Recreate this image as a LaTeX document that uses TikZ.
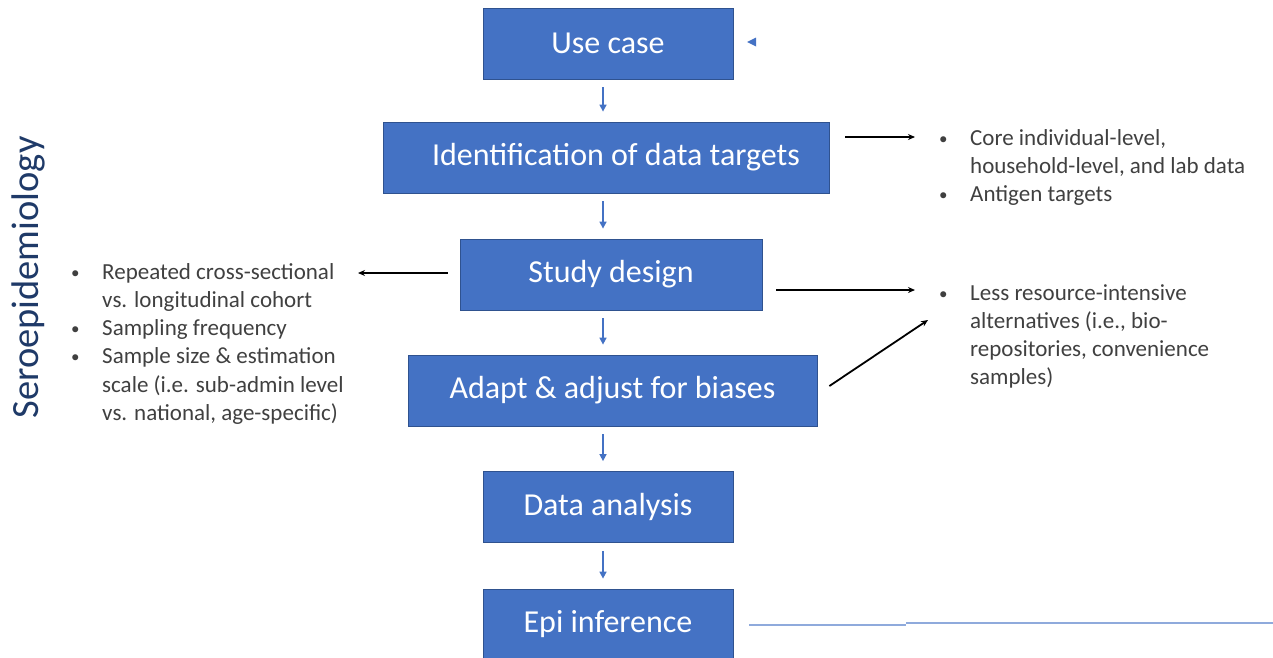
\documentclass[tikz,border=0pt]{standalone}
\usepackage{fontspec}
\setmainfont{Carlito}
\usetikzlibrary{arrows.meta}
\definecolor{boxfill}{HTML}{4472C4}
\definecolor{boxline}{HTML}{2F528F}
\definecolor{listtext}{HTML}{404040}
\definecolor{sidetext}{HTML}{1F3A68}
\definecolor{rulecol}{HTML}{8FAADC}
\tikzset{
  stepbox/.style={draw=boxline, line width=0.8pt, fill=boxfill, text=white,
    font=\fontsize{32}{38}\selectfont, inner sep=0pt, minimum height=71pt},
  flowarrow/.style={draw=boxfill, line width=1.5pt,
    -{Triangle[length=7pt,width=7pt]}},
  notearrow/.style={draw=black, line width=1.8pt,
    -{Stealth[length=7pt,width=6pt]}},
  notelist/.style={anchor=base west, inner sep=0pt, text=listtext,
    font=\fontsize{23}{28.3}\selectfont},
}
\newcommand{\bulletrow}{\makebox[31pt][l]{\raisebox{1pt}{\fontsize{17}{17}\selectfont •}}}
\begin{document}
\begin{tikzpicture}[x=1pt, y=-1pt]
\useasboundingbox (0,0) rectangle (1273,657);

% process boxes
\node[stepbox, minimum width=250pt] (usecase) at (608,43.5) {Use case};
\node[stepbox, minimum width=446pt] (ident) at (606,157.5) {\hspace*{20pt}Identification of data targets};
\node[stepbox, minimum width=302pt] (study) at (611,274.5) {Study design};
\node[stepbox, minimum width=409pt] (adapt) at (612.5,390.5) {Adapt \& adjust for biases};
\node[stepbox, minimum width=250pt] (analysis) at (608,507) {Data analysis};
\node[stepbox, minimum width=250pt] (epi) at (608,624.5) {Epi inference};

% side label
\node[rotate=90, text=sidetext, font=\fontsize{38.5}{42}\selectfont, inner sep=0pt]
  (sero) at (28,277.5) {Seroepidemiology};

% note lists
\node[notelist] (listA) at (939,145) {\begin{tabular}[t]{@{}l@{}l@{}}
\bulletrow & Core individual-level,\\
 & household-level, and lab data\\
\bulletrow & Antigen targets
\end{tabular}};
\node[notelist] (listB) at (71,279) {\begin{tabular}[t]{@{}l@{}l@{}}
\bulletrow & Repeated cross-sectional\\
 & vs. longitudinal cohort\\
\bulletrow & Sampling frequency\\
\bulletrow & Sample size \& estimation\\
 & scale (i.e. sub-admin level\\
 & vs. national, age-specific)
\end{tabular}};
\node[notelist] (listC) at (939,300) {\begin{tabular}[t]{@{}l@{}l@{}}
\bulletrow & Less resource-intensive\\
 & alternatives (i.e., bio-\\
 & repositories, convenience\\
 & samples)
\end{tabular}};

% flow arrows between steps
\coordinate (axis) at (603,0);
\foreach \a/\b in {usecase/ident, ident/study, study/adapt, adapt/analysis, analysis/epi}
  \draw[flowarrow, shorten <=8pt, shorten >=10pt] (\a.south -| axis) -- (\b.north -| axis);

% arrows to the note lists
\coordinate (tipA) at (915,137);
\coordinate (tipB) at (358,273);
\coordinate (tipC) at (915,290);
\coordinate (tipD) at (928,320);
\draw[notearrow] (ident.east |- tipA) ++(16,0) -- (tipA);
\draw[notearrow] (study.west |- tipB) ++(-12,0) -- (tipB);
\draw[notearrow] (study.east |- tipC) ++(14,0) -- (tipC);
\draw[notearrow] (adapt.east) ++(12,-4.5) -- (tipD);

% small marker beside the first step
\coordinate (mark) at (752,42);
\fill[boxfill] (mark) ++(-5,0) -- ++(9,-4.5) -- ++(0,9) -- cycle;

% rule next to the last step
\coordinate (ruleMid) at (906,625);
\coordinate (ruleEnd) at (1273,623);
\draw[rulecol, line width=1.5pt] (epi.east |- ruleMid) ++(16,0) -- (ruleMid);
\draw[rulecol, line width=1.5pt] (ruleMid |- ruleEnd) -- (ruleEnd);
\end{tikzpicture}
\end{document}
